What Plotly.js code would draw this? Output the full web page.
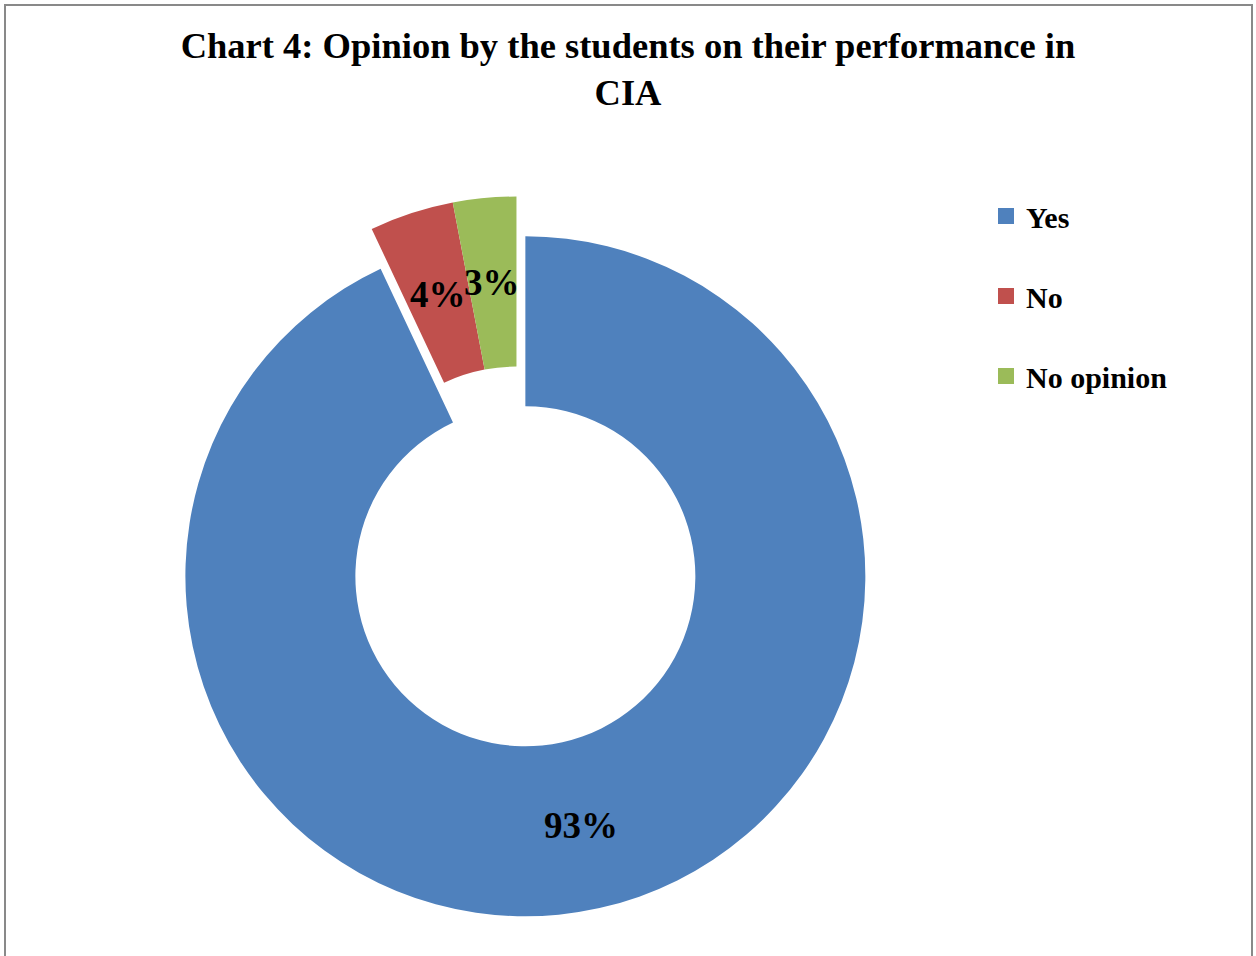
<!DOCTYPE html>
<html>
<head>
<meta charset="utf-8">
<script src="https://cdn.plot.ly/plotly-3.0.1.min.js"></script>
<style>html,body{margin:0;padding:0;background:#fff;}#chart{width:1256px;height:956px;}</style>
</head>
<body>
<div id="chart"></div>
<script>
// ---- data ----
const labels = ["Yes", "No", "No opinion"];
const values = [93, 4, 3];
const colors = ["#4F81BD", "#C0504D", "#9BBB59"];
const pulls = [0.12, 0, 0];
const chartTitle = "Chart 4: Opinion by the students on their performance in<br>CIA";

// ---- layout constants ----
const W = 1256, H = 956;
const hole = 0.5;
const domX = [0.1080, 0.7144];
const domY = [0.0405, 0.8371];
const serifA = "Liberation Serif";
const serifB = "Times New Roman";

const pie = {
  type: "pie",
  labels: labels,
  values: values,
  marker: {colors: colors, line: {width: 0}},
  pull: pulls,
  hole: hole,
  sort: false,
  direction: "clockwise",
  rotation: 0,
  textinfo: "none",
  domain: {x: domX, y: domY},
  showlegend: false,
  hoverinfo: "label+percent"
};

const legendTraces = labels.map((l, i) => ({
  type: "scatter",
  mode: "markers",
  x: [null], y: [null],
  name: l,
  legendgroup: l,
  marker: {symbol: "square", size: 16, color: colors[i]},
  hoverinfo: "skip"
}));

const total = values.reduce((a, b) => a + b, 0);
const boxW = W * (domX[1] - domX[0]);
const boxH = H * (domY[1] - domY[0]);
const maxPull = Math.max(...pulls);
const r = Math.min(boxW, boxH) / (2 + 2 * maxPull);
const cx = W * (domX[0] + domX[1]) / 2;
const cy = H * (1 - domY[0]) - boxH / 2;
const rMid = r * (1 + hole) / 2;
let cum = 0;
const annotations = values.map((v, i) => {
  const start = cum / total;
  cum += v;
  const end = cum / total;
  const th = Math.PI * (start + end);
  const rr = rMid + pulls[i] * r;
  const px = cx + rr * Math.sin(th);
  const py = cy - rr * Math.cos(th);
  return {
    xref: "paper", yref: "paper",
    x: px / W, y: 1 - py / H,
    xanchor: "center", yanchor: "middle",
    showarrow: false,
    text: "<b>" + Math.round(v / total * 100) + "%</b>",
    font: {family: serifA, size: 37, color: "#000"}
  };
});

const layout = {
  width: W, height: H,
  margin: {l: 0, r: 0, t: 0, b: 0},
  paper_bgcolor: "#fff",
  plot_bgcolor: "rgba(0,0,0,0)",
  title: {
    text: "<b>" + chartTitle + "</b>",
    font: {family: serifA, size: 36.5, color: "#000"},
    x: 0.5, xanchor: "center",
    xref: "paper",
    yref: "container", y: 1 - 58 / H, yanchor: "top"
  },
  xaxis: {visible: false},
  yaxis: {visible: false},
  showlegend: true,
  legend: {
    x: 986 / W, xanchor: "left",
    y: 1 - 190 / H, yanchor: "top",
    traceorder: "grouped",
    tracegroupgap: 38,
    font: {family: serifB, size: 30, color: "#000", weight: "bold"},
    bgcolor: "rgba(0,0,0,0)"
  },
  annotations: annotations,
  shapes: [{
    type: "rect", xref: "paper", yref: "paper",
    x0: 5 / W, x1: 1252 / W, y0: -0.2, y1: 1 - 5 / H,
    line: {color: "#898989", width: 2},
    fillcolor: "rgba(0,0,0,0)",
    layer: "below"
  }],
  hovermode: "closest"
};

Plotly.newPlot("chart", [pie].concat(legendTraces), layout, {displayModeBar: false, responsive: false});
</script>
</body>
</html>
